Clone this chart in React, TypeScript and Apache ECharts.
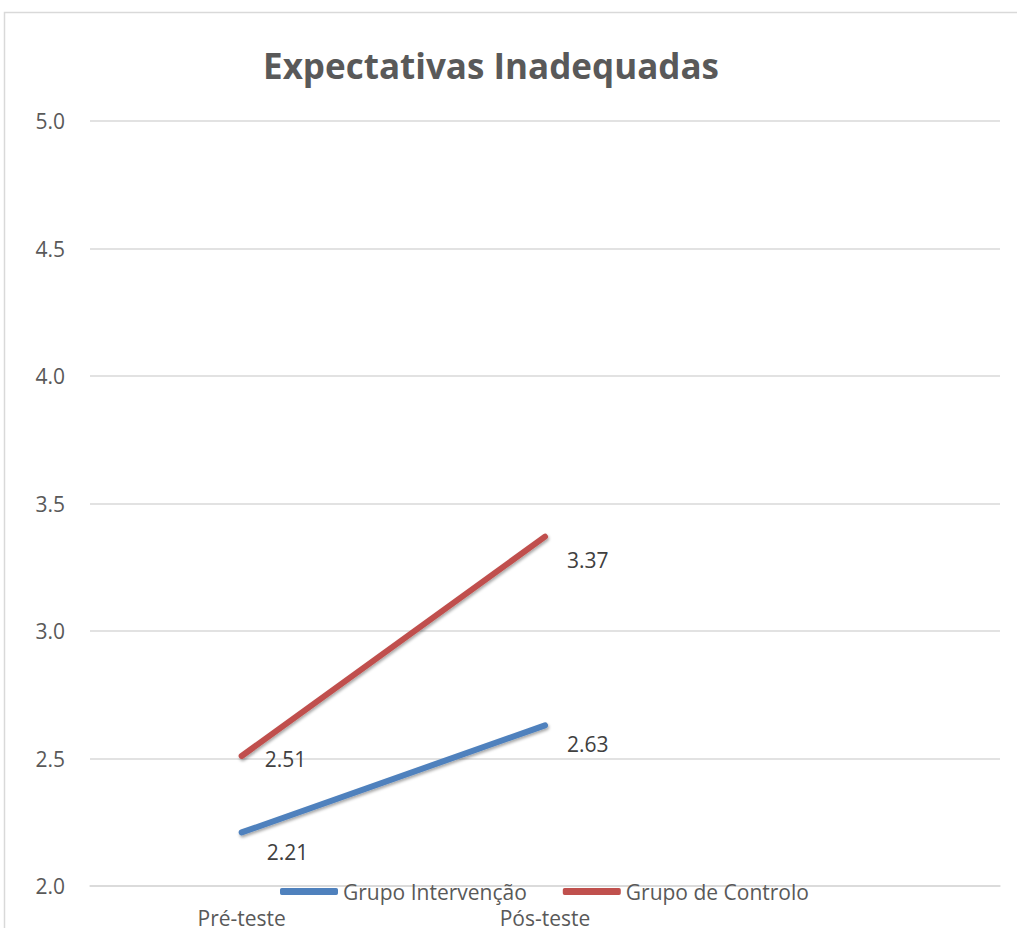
import React, { useEffect, useRef } from "react";
import * as echarts from "echarts";

const categories = ["Pré-teste", "Pós-teste", ""];
const intervencao = [2.21, 2.63];
const controlo = [2.51, 3.37];
const seriesNames = ["Grupo Intervenção", "Grupo de Controlo"];
const titleText = "Expectativas Inadequadas";

const FONT = "'Open Sans', 'Noto Sans', sans-serif";
const TXT = "#595959";

export default function App() {
  const ref = useRef<HTMLDivElement>(null);
  useEffect(() => {
    document.body.style.margin = "0";
    const chart = echarts.init(ref.current!, null, { renderer: "svg" });
    const lineStyle = (color: string) => ({
      color,
      width: 6,
      cap: "round" as const,
      shadowColor: "rgba(0,0,0,0.35)",
      shadowBlur: 3,
      shadowOffsetY: 2,
      shadowOffsetX: 1,
    });
    const labelBase = {
      show: true,
      position: "right" as const,
      distance: 22,
      fontFamily: FONT,
      fontSize: 21,
      color: "#404040",
      formatter: (p: any) => Number(p.value).toFixed(2),
    };
    chart.setOption({
      animation: false,
      backgroundColor: "#ffffff",
      title: {
        text: titleText,
        left: 486,
        textAlign: "center",
        top: 43,
        textStyle: { fontFamily: FONT, fontSize: 35, fontWeight: "bold", color: TXT },
      },
      graphic: [
        {
          type: "rect",
          shape: { x: 4.5, y: 12.5, width: 1030, height: 940 },
          style: { fill: "none", stroke: "#d9d9d9", lineWidth: 1.5 },
          silent: true,
        },
      ],
      legend: {
        left: 275,
        top: 876,
        icon: "roundRect",
        itemWidth: 58,
        itemHeight: 7,
        itemGap: 36,
        textStyle: { fontFamily: FONT, fontSize: 21, color: TXT },
        data: seriesNames,
      },
      grid: { left: 90, right: 17, top: 121, bottom: 41 },
      xAxis: {
        type: "category",
        data: categories,
        boundaryGap: true,
        axisLine: { show: true, lineStyle: { color: "#d9d9d9", width: 1.5 } },
        axisTick: { show: false },
        axisLabel: { fontFamily: FONT, fontSize: 21, color: TXT, margin: 21 },
      },
      yAxis: {
        type: "value",
        min: 2,
        max: 5,
        interval: 0.5,
        axisLine: { show: false },
        axisTick: { show: false },
        axisLabel: {
          fontFamily: FONT,
          fontSize: 21,
          color: TXT,
          margin: 25,
          formatter: (v: number) => v.toFixed(1),
        },
        splitLine: { lineStyle: { color: "#d9d9d9", width: 1.5 } },
      },
      series: [
        {
          name: seriesNames[0],
          type: "line",
          data: [
            { value: intervencao[0], label: { offset: [3, 20] } },
            { value: intervencao[1], label: { offset: [0, 19] } },
          ],
          color: "#4F81BD",
          lineStyle: lineStyle("#4F81BD"),
          showSymbol: true,
          symbol: "circle",
          symbolSize: 0,
          label: labelBase,
          z: 3,
        },
        {
          name: seriesNames[1],
          type: "line",
          data: [
            { value: controlo[0], label: { offset: [1, 3] } },
            { value: controlo[1], label: { offset: [0, 23] } },
          ],
          color: "#C0504D",
          lineStyle: lineStyle("#C0504D"),
          showSymbol: true,
          symbol: "circle",
          symbolSize: 0,
          label: labelBase,
          z: 3,
        },
      ],
    });
    return () => chart.dispose();
  }, []);
  return <div ref={ref} style={{ width: 1017, height: 928 }} />;
}
